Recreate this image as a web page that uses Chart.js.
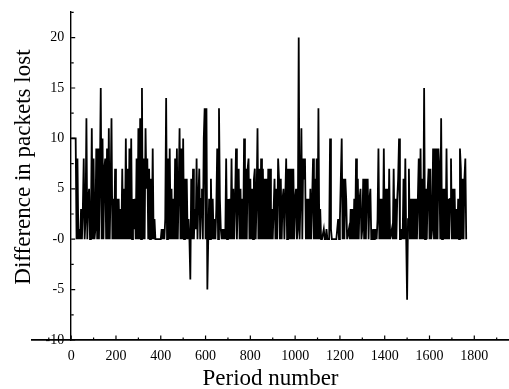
<!DOCTYPE html>
<html>
<head>
<meta charset="utf-8">
<script src="https://cdn.jsdelivr.net/npm/chart.js@4.4.0/dist/chart.umd.min.js"></script>
<style>
  html, body { margin: 0; padding: 0; background: #fff; }
  #wrap { width: 509px; height: 389px; }
</style>
</head>
<body>
<div id="wrap"><canvas id="lossChart"></canvas></div>
<script>
/* ══════════════════════════════════════════════════════════════════════
   DIFFERENCE IN PACKETS LOST PER PERIOD
     - one sample every 4 periods
   ══════════════════════════════════════════════════════════════════════ */

const periodStep = 4;

const packetDiff = [
  10, 10, 10, 10, 10, 10, 0, 8, 0, 1,   0, 3, 0, 3, 8, 0, 2, 12, 0, 4,
  5, 0, 1, 11, 0, 8, 0, 1, 9, 0,        9, 0, 6, 15, 0, 10, 0, 7, 8, 0,
  9, 0, 11, 0, 5, 12, 0, 4, 0, 7,       0, 4, 0, 4, 0, 3, 0, 7, 0, 5,
  0, 10, 0, 7, 0, 9, 0, 10, 0, 4,       1, 4, 0, 8, 0, 11, 0, 12, 0, 15,
  0, 8, 0, 11, 5, 8, 0, 7, 0, 6,        0, 9, 0, 2, 0, 0, 0, 0, 0, 0,
  0, 1, 0, 1, 0, 2, 14, 0, 8, 0,        9, 0, 5, 0, 4, 0, 8, 0, 9, 0,
  5, 11, 0, 9, 0, 10, 0, 6, 0, 6,       0, 2, 0, -4, 6, 0, 7, 0, 3, 1,
  8, 0, 4, 7, 0, 4, 5, 0, 10, 13,       0, 13, -5, 0, 4, 0, 6, 0, 4, 0,
  2, 0, 3, 9, 0, 13, 4, 1, 0, 1,        0, 1, 0, 8, 0, 4, 0, 4, 0, 8,
  0, 5, 0, 4, 9, 0, 4, 7, 0, 5,         0, 4, 0, 10, 0, 7, 0, 7, 8, 0,
  6, 0, 5, 0, 6, 7, 0, 4, 11, 0,        7, 0, 8, 0, 7, 0, 6, 0, 6, 0,
  7, 0, 7, 0, 3, 0, 3, 6, 0, 5,         0, 8, 6, 0, 6, 0, 4, 5, 0, 4,
  8, 0, 7, 0, 7, 0, 7, 0, 7, 0,         4, 5, 0, 1, 20, 0, 4, 11, 0, 8,
  6, 8, 0, 4, 0, 4, 0, 5, 0, 4,         8, 0, 6, 0, 8, 0, 13, 0, 3, 0,
  0, 0, 1, 0, 0, 1, 0, 0, 0, 10,        1, 0, 0, 0, 0, 0, 0, 1, 2, 0,
  2, 6, 10, 0, 6, 0, 6, 4, 0, 0,        1, 0, 3, 0, 3, 0, 4, 0, 8, 0,
  6, 0, 4, 5, 0, 1, 6, 0, 6, 0,         5, 6, 0, 4, 5, 0, 0, 1, 0, 0,
  1, 0, 2, 9, 0, 4, 0, 4, 0, 9,         0, 5, 0, 5, 0, 7, 0, 0, 1, 0,
  7, 0, 4, 0, 4, 6, 10, 0, 0, 1,        0, 6, 0, 8, 0, -6, 2, 7, 0, 4,
  0, 4, 0, 4, 0, 4, 0, 4, 8, 0,         9, 0, 6, 0, 15, 0, 5, 0, 5, 7,
  0, 7, 0, 1, 9, 0, 9, 0, 9, 0,         9, 7, 0, 12, 0, 5, 0, 5, 0, 9,
  0, 4, 0, 4, 8, 0, 5, 0, 5, 0,         3, 0, 4, 0, 9, 7, 0, 6, 0, 6,
  8, 0
];

const xTicks      = [0, 200, 400, 600, 800, 1000, 1200, 1400, 1600, 1800];
const xMinorTicks = [-100, 100, 300, 500, 700, 900, 1100, 1300, 1500, 1700, 1900];
const yTicks      = [-10, -5, 0, 5, 10, 15, 20];
const yMinorTicks = [-7.5, -2.5, 2.5, 7.5, 12.5, 17.5, 22.5];

const xTitle = 'Period number';
// leading blanks nudge the centred title up a little, as printed
const yTitle = '   Difference in packets lost';

const serif = "'Liberation Serif', 'Times New Roman', serif";

/* ── ticks pointing inwards, as in the printed figure ─────────────── */
const innerTicks = {
  id: 'innerTicks',
  afterDatasetsDraw(chart) {
    const { ctx, scales: { x, y } } = chart;
    const axisX = x.getPixelForValue(0);
    const axisY = y.getPixelForValue(-10);
    ctx.save();
    ctx.strokeStyle = '#000';
    ctx.lineWidth = 1.2;
    ctx.beginPath();
    xTicks.forEach(v => {
      const p = x.getPixelForValue(v);
      ctx.moveTo(p, axisY); ctx.lineTo(p, axisY - 4.5);
    });
    xMinorTicks.forEach(v => {
      const p = x.getPixelForValue(v);
      ctx.moveTo(p, axisY); ctx.lineTo(p, axisY - 2.5);
    });
    yTicks.forEach(v => {
      const p = y.getPixelForValue(v);
      ctx.moveTo(axisX, p); ctx.lineTo(axisX + 4, p);
    });
    yMinorTicks.forEach(v => {
      const p = y.getPixelForValue(v);
      ctx.moveTo(axisX, p); ctx.lineTo(axisX + 2.5, p);
    });
    ctx.stroke();
    ctx.restore();
  }
};

new Chart(document.getElementById('lossChart'), {
  type: 'line',
  data: {
    datasets: [{
      data: packetDiff.map((v, i) => ({ x: i * periodStep, y: v })),
      borderColor: '#000',
      borderWidth: 1.8,
      pointRadius: 0,
      tension: 0,
    }],
  },
  options: {
    responsive: true,
    maintainAspectRatio: false,
    animation: false,
    layout: { padding: { top: 9, right: 0, bottom: 0, left: 0 } },
    plugins: {
      legend:  { display: false },
      tooltip: { enabled: false },
    },
    scales: {
      x: {
        type: 'linear',
        position: 'bottom',
        min: -175,
        max: 1955,
        afterBuildTicks: (s) => { s.ticks = xTicks.map(v => ({ value: v })); },
        afterFit: (s) => { s.height = 49; },
        grid:   { display: false, drawTicks: false },
        border: { display: true, color: '#000', width: 1.8 },
        ticks:  {
          color: '#000', font: { family: serif, size: 14 }, padding: 8, maxRotation: 0, autoSkip: false,
          callback: (v) => String(v),
        },
        title:  {
          display: true, text: xTitle, color: '#000',
          font: { family: serif, size: 23, lineHeight: 0.84 }, padding: 0,
        },
      },
      y: {
        type: 'linear',
        position: { x: 0 },
        min: -10,
        max: 22.6,
        afterBuildTicks: (s) => { s.ticks = yTicks.map(v => ({ value: v })); },
        grid:   { display: false, drawTicks: false },
        border: { display: true, color: '#000', width: 1.4 },
        ticks:  {
          color: '#000', font: { family: serif, size: 14 }, autoSkip: false,
          callback: (v) => (v === 0 ? '-0' : String(v)) + '  ',
        },
      },
      // only carries the rotated y title on the left edge
      yTitle: {
        type: 'linear',
        axis: 'y',
        position: 'left',
        afterFit: (s) => { s.width = 32; },
        grid:   { display: false, drawTicks: false },
        border: { display: false },
        ticks:  { display: false },
        title:  {
          display: true, text: yTitle, color: '#000',
          font: { family: serif, size: 23 }, padding: { top: 10, bottom: 0 },
        },
      },
    },
  },
  plugins: [innerTicks],
});
</script>
</body>
</html>
